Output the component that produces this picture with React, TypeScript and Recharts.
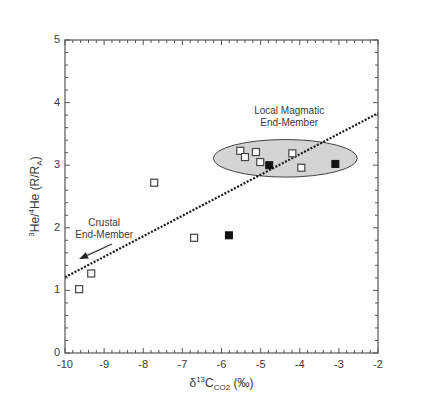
import React from 'react';
import { ComposedChart, Scatter, XAxis, YAxis, ReferenceLine, ReferenceArea, ReferenceDot } from 'recharts';

// open squares
const openX = [-9.64, -9.33, -7.72, -6.7, -5.52, -5.4, -5.12, -5.01, -4.19, -3.96];
const openY = [1.02, 1.27, 2.72, 1.84, 3.23, 3.13, 3.21, 3.05, 3.19, 2.96];
// filled squares
const filledX = [-5.81, -4.78, -3.09];
const filledY = [1.88, 3.0, 3.02];
// dotted trend line end points
const trendX = [-10, -2];
const trendY = [1.21, 3.83];
// local magmatic end-member field (ellipse bounds)
const fieldX = [-6.21, -2.53];
const fieldY = [2.81, 3.41];
// crustal arrow (tail -> head)
const arrowX = [-8.8, -9.64];
const arrowY = [1.74, 1.5];

const xMajor = [-10, -9, -8, -7, -6, -5, -4, -3, -2];
const yMajor = [0, 1, 2, 3, 4, 5];
// minor ticks every 0.2
const xTicks = Array.from({ length: 41 }, (_, i) => Math.round((-10 + i * 0.2) * 10) / 10);
const yTicks = Array.from({ length: 26 }, (_, i) => Math.round(i * 0.2 * 10) / 10);

const openPts = openX.map((x, i) => ({ x, y: openY[i] }));
const filledPts = filledX.map((x, i) => ({ x, y: filledY[i] }));

const W = 424;
const H = 409;
const M = { top: 40, right: 46, bottom: 56, left: 65 };
const PLOT_W = W - M.left - M.right;
const PLOT_H = H - M.top - M.bottom;

const FONT = '"Liberation Sans", Arial, sans-serif';
const INK = '#3a3a3a';
const AXIS = '#555';

const XTick = (p: any) => {
  const v = p.payload.value;
  const major = xMajor.includes(v);
  const len = major ? 5 : 3;
  const top = p.y - PLOT_H;
  return (
    <g>
      <line x1={p.x} y1={p.y} x2={p.x} y2={p.y - len} stroke={AXIS} />
      <line x1={p.x} y1={top} x2={p.x} y2={top + len} stroke={AXIS} />
      {major && (
        <text x={p.x} y={p.y + 15} textAnchor="middle" fontFamily={FONT} fontSize={11} fill={INK}>
          {v}
        </text>
      )}
    </g>
  );
};

const YTick = (p: any) => {
  const v = p.payload.value;
  const major = yMajor.includes(v);
  const len = major ? 5 : 3;
  const right = p.x + PLOT_W;
  return (
    <g>
      <line x1={p.x} y1={p.y} x2={p.x + len} y2={p.y} stroke={AXIS} />
      <line x1={right} y1={p.y} x2={right - len} y2={p.y} stroke={AXIS} />
      {major && (
        <text x={p.x - 5} y={p.y + 3} textAnchor="end" fontFamily={FONT} fontSize={11} fill={INK}>
          {v}
        </text>
      )}
    </g>
  );
};

const OpenSquare = (p: any) => (
  <rect x={p.cx - 3.5} y={p.cy - 3.5} width={7} height={7} fill="#fff" stroke="#444" strokeWidth={1.2} />
);
const FilledSquare = (p: any) => (
  <rect x={p.cx - 3.5} y={p.cy - 3.5} width={7} height={7} fill="#111" stroke="#111" strokeWidth={1} />
);

const Field = (p: any) => (
  <ellipse
    cx={p.x + p.width / 2}
    cy={p.y + p.height / 2}
    rx={p.width / 2}
    ry={p.height / 2}
    fill="#d4d4d4"
    stroke="#444"
    strokeWidth={1}
  />
);

const Frame = (p: any) => (
  <rect x={p.x} y={p.y} width={p.width} height={p.height} fill="none" stroke={AXIS} strokeWidth={1.2} />
);

const Arrow = (p: any) => {
  const { x1, y1, x2, y2 } = p;
  const ang = Math.atan2(y2 - y1, x2 - x1);
  const len = 9;
  const w = 3.5;
  const bx = x2 - len * Math.cos(ang);
  const by = y2 - len * Math.sin(ang);
  const nx = -Math.sin(ang) * w;
  const ny = Math.cos(ang) * w;
  return (
    <g>
      <line x1={x1} y1={y1} x2={bx} y2={by} stroke="#333" strokeWidth={1.2} />
      <polygon points={`${x2},${y2} ${bx + nx},${by + ny} ${bx - nx},${by - ny}`} fill="#222" />
    </g>
  );
};

const TwoLine = (lines: string[]) => (p: any) => (
  <text x={p.cx} y={p.cy} textAnchor="middle" fontFamily={FONT} fontSize={10} fill={INK}>
    {lines.map((t, i) => (
      <tspan key={i} x={p.cx} dy={i === 0 ? 0 : 12}>
        {t}
      </tspan>
    ))}
  </text>
);

const XTitle = (p: any) => {
  const vb = p.viewBox;
  const cx = vb.x + vb.width / 2;
  const cy = vb.y + 34;
  return (
    <text x={cx} y={cy} textAnchor="middle" fontFamily={FONT} fontSize={12} fill={INK}>
      <tspan>δ</tspan>
      <tspan fontSize={8} dy={-5}>13</tspan>
      <tspan dy={5}>C</tspan>
      <tspan fontSize={8} dy={3}>CO2</tspan>
      <tspan dy={-3}> (‰)</tspan>
    </text>
  );
};

const YTitle = (p: any) => {
  const vb = p.viewBox;
  const cx = vb.x + 14;
  const cy = vb.y + vb.height / 2;
  return (
    <text
      x={cx}
      y={cy}
      transform={`rotate(-90, ${cx}, ${cy})`}
      textAnchor="middle"
      fontFamily={FONT}
      fontSize={12}
      fill={INK}
    >
      <tspan fontSize={8} dy={-5}>3</tspan>
      <tspan dy={5}>He/</tspan>
      <tspan fontSize={8} dy={-5}>4</tspan>
      <tspan dy={5}>He (R/R</tspan>
      <tspan fontSize={8} dy={3}>A</tspan>
      <tspan dy={-3}>)</tspan>
    </text>
  );
};

export default function App() {
  return (
    <div style={{ position: 'absolute', left: 0, top: 0, width: W, height: H, background: '#fff' }}>
      <ComposedChart
        width={W}
        height={H}
        margin={{ top: M.top, right: M.right, bottom: M.bottom - 30, left: M.left - 40 }}
      >
        <XAxis
          type="number"
          dataKey="x"
          domain={[-10, -2]}
          ticks={xTicks}
          interval={0}
          allowDataOverflow
          height={30}
          tickLine={false}
          tickSize={0}
          tickMargin={0}
          axisLine={false}
          tick={XTick}
          label={{ content: XTitle }}
        />
        <YAxis
          type="number"
          dataKey="y"
          domain={[0, 5]}
          ticks={yTicks}
          interval={0}
          allowDataOverflow
          width={40}
          tickLine={false}
          tickSize={0}
          tickMargin={0}
          axisLine={false}
          tick={YTick}
          label={{ content: YTitle }}
        />

        <ReferenceArea x1={fieldX[0]} x2={fieldX[1]} y1={fieldY[0]} y2={fieldY[1]} shape={Field} />
        <ReferenceLine
          segment={[{ x: trendX[0], y: trendY[0] }, { x: trendX[1], y: trendY[1] }]}
          stroke="#1a1a1a"
          strokeWidth={2.2}
          strokeDasharray="2 1.6"
          ifOverflow="hidden"
        />
        <ReferenceLine
          segment={[{ x: arrowX[0], y: arrowY[0] }, { x: arrowX[1], y: arrowY[1] }]}
          shape={Arrow}
        />
        <ReferenceDot x={-4.27} y={3.82} r={0} shape={TwoLine(['Local Magmatic', 'End-Member'])} />
        <ReferenceDot x={-9.0} y={2.03} r={0} shape={TwoLine(['Crustal', 'End-Member'])} />

        <Scatter data={openPts} dataKey="y" shape={OpenSquare} isAnimationActive={false} />
        <Scatter data={filledPts} dataKey="y" shape={FilledSquare} isAnimationActive={false} />

        <ReferenceArea x1={-10} x2={-2} y1={0} y2={5} shape={Frame} />
      </ComposedChart>
    </div>
  );
}
